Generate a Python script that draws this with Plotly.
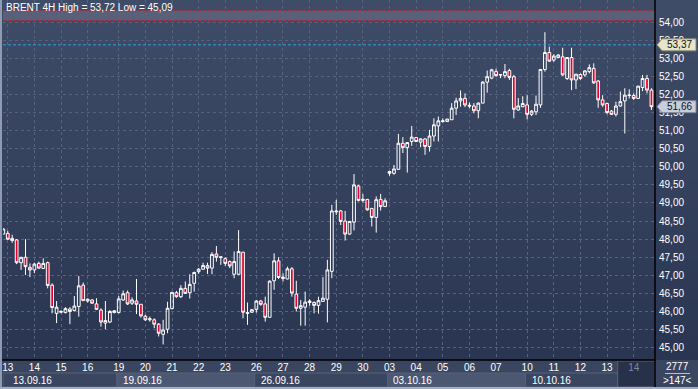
import plotly.graph_objects as go

# ---------------- data (BRENT 4H, 147 bars) ----------------
opens = [48.14,48.16,48.02,47.98,47.35,47.50,47.22,47.15,47.33,47.19,47.35,46.73,45.95,45.98,45.97,46.07,46.03,46.14,46.73,46.29,
         46.32,46.21,46.04,45.68,45.71,45.97,45.97,46.32,46.52,46.23,46.29,46.20,45.87,45.77,45.77,45.65,45.37,45.51,46.08,46.52,
         46.41,46.64,46.52,46.78,47.10,47.17,47.27,47.20,47.59,47.49,47.46,47.38,47.03,47.03,47.64,45.97,45.98,46.06,46.29,46.21,
         45.84,46.85,47.40,46.91,46.90,47.18,46.48,46.09,46.12,46.25,46.25,46.17,46.28,46.34,47.11,48.78,48.78,48.50,48.14,48.47,
         49.47,49.07,49.10,48.85,48.60,49.10,48.90,49.87,49.82,49.93,50.65,50.53,50.70,50.81,50.68,50.77,50.56,50.85,51.13,51.25,
         51.25,51.30,51.62,51.82,51.89,51.70,51.68,51.55,51.76,52.34,52.45,52.63,52.55,52.52,52.66,52.49,51.57,51.66,51.71,51.45,
         51.52,51.71,52.69,53.16,52.95,53.02,53.04,52.44,53.02,52.40,52.55,52.54,52.63,52.72,52.37,51.85,51.75,51.54,51.45,51.68,
         51.82,51.97,51.97,51.89,52.19,52.44,52.12]
highs = [48.30,48.23,48.12,48.00,47.50,48.00,47.33,47.35,47.38,47.47,47.38,46.78,46.29,46.04,46.12,46.12,46.43,46.98,46.80,46.36,
         46.34,46.37,46.09,46.29,46.04,46.04,46.43,46.58,46.58,46.39,46.90,46.20,45.91,45.86,45.81,45.68,45.77,46.27,46.53,46.57,
         46.73,46.83,47.03,47.10,47.20,47.35,47.35,47.64,47.81,47.51,47.50,47.41,47.66,48.25,47.64,46.25,46.07,46.32,46.32,46.41,
         46.86,47.61,47.50,47.06,47.24,47.23,46.85,46.32,46.55,46.34,46.28,46.41,46.95,47.43,48.95,49.09,48.81,48.78,48.49,49.80,
         49.50,49.25,49.10,48.85,49.18,49.25,49.13,49.89,50.05,50.91,50.82,50.67,51.13,50.82,50.79,50.79,51.02,51.34,51.39,51.34,
         51.32,51.76,51.91,52.11,52.03,51.78,51.76,51.78,52.37,52.66,52.71,52.71,52.56,52.84,52.71,52.54,51.90,51.95,51.98,51.57,
         51.97,52.69,53.72,53.32,53.11,53.11,53.29,53.02,53.29,52.56,52.58,52.67,52.83,52.86,52.40,51.98,51.77,51.57,51.80,52.08,
         52.17,52.14,52.03,52.23,52.54,52.54,52.17]
lows = [48.14,47.98,47.90,47.31,47.15,47.01,46.95,47.06,47.18,47.18,46.64,45.95,45.68,45.95,45.95,45.65,46.00,45.86,46.30,46.25,
        46.21,46.04,45.58,45.51,45.68,45.95,45.95,46.29,46.18,46.18,45.93,45.83,45.74,45.72,45.54,45.31,45.09,45.40,46.06,46.38,
        46.37,46.49,46.36,46.55,47.04,47.15,47.04,47.03,47.38,47.29,47.26,47.20,46.92,47.01,45.81,45.63,45.97,45.97,46.16,45.72,
        45.84,46.60,46.90,46.83,46.89,46.41,46.00,45.61,45.61,46.16,45.95,45.94,46.28,45.70,46.92,48.67,48.39,47.96,48.12,48.24,
        49.04,49.01,48.79,48.35,48.18,48.79,48.90,49.75,49.78,49.93,50.38,49.84,50.58,50.70,50.54,50.33,50.42,50.70,50.70,51.22,
        51.25,51.30,51.43,51.66,51.65,51.62,51.48,51.34,51.76,52.05,52.42,52.49,52.45,52.45,52.40,51.34,51.55,51.66,51.31,51.40,
        51.43,51.63,52.63,52.90,52.90,53.00,52.51,52.40,52.12,52.15,52.40,52.49,52.58,52.29,51.63,51.66,51.45,51.43,51.39,51.66,
        50.92,51.89,51.85,51.89,52.09,52.03,51.57]
closes = [48.28,48.00,47.96,47.35,47.50,47.24,47.15,47.31,47.20,47.33,46.72,46.11,46.12,46.00,46.08,46.00,46.15,46.71,46.30,46.34,
          46.23,46.06,45.71,45.75,46.00,46.02,46.35,46.49,46.21,46.32,46.20,45.88,45.77,45.80,45.65,45.40,45.49,46.09,46.53,46.41,
          46.64,46.50,46.75,47.08,47.17,47.27,47.20,47.58,47.50,47.51,47.33,47.26,47.38,47.66,45.98,45.95,46.05,46.29,46.20,45.84,
          46.84,47.40,46.94,46.95,47.18,46.51,46.09,46.16,46.26,46.29,46.17,46.30,46.37,47.15,48.78,48.76,48.49,48.14,48.49,49.50,
          49.07,49.10,48.81,48.60,49.09,48.90,49.06,49.82,49.94,50.65,50.53,50.67,50.82,50.70,50.77,50.56,50.85,51.16,51.27,51.27,
          51.32,51.62,51.82,51.89,51.71,51.68,51.55,51.76,52.34,52.49,52.68,52.52,52.54,52.63,52.47,51.59,51.68,51.75,51.45,51.54,
          51.73,52.69,53.16,52.92,53.06,53.09,52.54,53.02,52.40,52.56,52.44,52.65,52.74,52.32,51.85,51.71,51.50,51.45,51.68,51.80,
          51.98,51.98,51.89,52.23,52.44,52.12,51.66]
bars = list(range(len(opens)))

day_ticks = [1, 7, 13, 19, 26, 32, 38, 44, 50, 57, 63, 69, 75, 81, 87, 93, 99, 105, 111, 118, 124, 130, 136, 142]
day_labels = ["13", "14", "15", "16", "19", "20", "21", "22", "23", "26", "27", "28", "29", "30",
              "03", "04", "05", "06", "07", "10", "11", "12", "13", "14"]
week_labels = ["13.09.16", "19.09.16", "26.09.16", "03.10.16", "10.10.16"]
week_starts = [-0.07, 25.6, 56.6, 86.6, 117.6]
price_ticks = [45 + 0.5 * i for i in range(19)]
zone_low, zone_high = 54.05, 54.31
ask_price = 53.37
last_price = closes[-1]
title_text = "BRENT 4H High = 53,72 Low = 45,09"

# ---------------- geometry helpers ----------------
W, H = 698, 389
L, R, T, B = 3, 43, 0, 29
PW, PH = W - L - R, H - T - B
Y0, Y1 = 44.66, 54.61
XMAX = 146.8


def px(x):
    return (x - L) / PW


def py(y):
    return (H - B - y) / PH


def fmt(v):
    return f"{v:.2f}".replace(".", ",")


FONT = "Liberation Sans, Arial, sans-serif"

fig = go.Figure(go.Candlestick(
    x=bars, open=opens, high=highs, low=lows, close=closes,
    increasing=dict(line=dict(color="#ffffff", width=1), fillcolor="rgba(0,0,0,0)"),
    decreasing=dict(line=dict(color="#ffffff", width=1), fillcolor="#e8002e"),
    whiskerwidth=0, hoverinfo="skip", showlegend=False,
))

shapes = []
# vertical gradient background (plot + right axis)
top, bot = (63, 76, 104), (42, 54, 81)
n = 36
for i in range(n):
    t = i / (n - 1)
    c = tuple(round(top[k] + (bot[k] - top[k]) * t) for k in range(3))
    shapes.append(dict(type="rect", xref="paper", yref="paper", x0=px(0), x1=px(W),
                       y0=1 - (i + 1) / n, y1=1 - i / n, fillcolor="rgb(%d,%d,%d)" % c,
                       line_width=0, layer="below"))
# zone band between red dotted lines
shapes.append(dict(type="rect", xref="paper", yref="y", x0=0, x1=1, y0=zone_low, y1=zone_high,
                   fillcolor="#59607a", line_width=0, layer="below"))
for yv in (zone_low, zone_high):
    shapes.append(dict(type="line", xref="paper", yref="y", x0=0, x1=1, y0=yv, y1=yv,
                       line=dict(color="#d8202e", width=1, dash="3px,2px")))
shapes.append(dict(type="line", xref="paper", yref="y", x0=0, x1=1, y0=ask_price, y1=ask_price,
                   line=dict(color="#1ea6de", width=1, dash="3px,2px")))

# bottom axis strip: week boxes (drawn below the tick labels)
for i, ws in enumerate(week_starts):
    we = week_starts[i + 1] if i + 1 < len(week_starts) else 138.4
    shapes.append(dict(type="rect", xref="x", yref="paper", x0=ws, x1=we,
                       y0=py(387), y1=py(373),
                       fillcolor="#4c5772" if i % 2 == 1 else "#3a4560",
                       line=dict(color="#56627c", width=1), layer="below"))
# dark current-day box
shapes.append(dict(type="rect", xref="x", yref="paper", x0=138.4, x1=XMAX, y0=py(387), y1=py(361),
                   fillcolor="#27314a", line=dict(color="#56627c", width=1), layer="below"))
# frame lines
shapes.append(dict(type="line", xref="paper", yref="paper", x0=px(0), x1=px(655), y0=0, y1=0,
                   line=dict(color="#000000", width=1.5)))
shapes.append(dict(type="line", xref="paper", yref="paper", x0=1, x1=1, y0=py(389), y1=1,
                   line=dict(color="#000000", width=1.5)))
shapes.append(dict(type="line", xref="paper", yref="paper", x0=px(1), x1=px(1), y0=py(389), y1=1,
                   line=dict(color="#8f9bb2", width=2)))
shapes.append(dict(type="line", xref="paper", yref="paper", x0=px(0), x1=px(W), y0=py(388), y1=py(388),
                   line=dict(color="#a3adbf", width=2)))
shapes.append(dict(type="line", xref="paper", yref="paper", x0=px(665), x1=px(690), y0=py(373.5), y1=py(373.5),
                   line=dict(color="#b8c0d0", width=1)))

# price tag boxes on the right axis
tag_h = 6 / (PH / (Y1 - Y0))


def tag_path(yv):
    x0, x1, x2 = px(657), px(662), px(696)
    return (f"M {x0},{yv} L {x1},{yv + tag_h} L {x2},{yv + tag_h} "
            f"L {x2},{yv - tag_h} L {x1},{yv - tag_h} Z")


shapes.append(dict(type="path", xref="paper", yref="y", path=tag_path(ask_price),
                   fillcolor="#e6e4c9", line=dict(color="#8a8870", width=1)))
shapes.append(dict(type="path", xref="paper", yref="y", path=tag_path(last_price),
                   fillcolor="#c8cfda", line=dict(color="#7d8698", width=1)))

annotations = [
    dict(text=title_text, xref="paper", yref="paper", x=px(4), y=py(7.5), xanchor="left",
         yanchor="middle", showarrow=False, font=dict(family=FONT, size=10, color="#ffffff")),
    dict(text=fmt(ask_price), xref="paper", yref="y", x=px(679), y=ask_price, showarrow=False,
         xanchor="center", yanchor="middle", font=dict(family=FONT, size=10, color="#111111")),
    dict(text=fmt(last_price), xref="paper", yref="y", x=px(679), y=last_price, showarrow=False,
         xanchor="center", yanchor="middle", font=dict(family=FONT, size=10, color="#111111")),
    dict(text="2777", xref="paper", yref="paper", x=px(677), y=py(366), showarrow=False,
         xanchor="center", yanchor="middle", font=dict(family=FONT, size=10, color="#ffffff")),
    dict(text="&gt;147&lt;", xref="paper", yref="paper", x=px(677), y=py(380), showarrow=False,
         xanchor="center", yanchor="middle", font=dict(family=FONT, size=10, color="#ffffff")),
]
week_label_x = [1.8, 26.6, 57.5, 87.3, 118.6]
for lab, xv in zip(week_labels, week_label_x):
    annotations.append(dict(text=lab, xref="x", yref="paper", x=xv, y=py(380), showarrow=False,
                            xanchor="left", yanchor="middle",
                            font=dict(family=FONT, size=10, color="#ffffff")))

tick_text = [lab for lab in day_labels]
tick_text[-1] = "<span style='color:#7d889c'>14</span>"

fig.update_layout(
    width=W, height=H, margin=dict(l=L, r=R, t=T, b=B, pad=0),
    paper_bgcolor="#3a4560", plot_bgcolor="rgba(0,0,0,0)",
    shapes=shapes, annotations=annotations, showlegend=False,
    font=dict(family=FONT, size=10, color="#ffffff"),
    xaxis=dict(range=[-0.07, XMAX], tickvals=day_ticks, ticktext=tick_text, showgrid=True,
               gridcolor="#56637e", griddash="3px,3px", gridwidth=1, zeroline=False,
               rangeslider=dict(visible=False), ticks="", showline=False,
               tickfont=dict(family=FONT, size=10, color="#ffffff")),
    yaxis=dict(range=[Y0, Y1], side="right", tickvals=price_ticks,
               ticktext=[fmt(v) for v in price_ticks], showgrid=True, gridcolor="#56637e",
               griddash="3px,3px", gridwidth=1, zeroline=False, ticks="", showline=False,
               ticklabelstandoff=3,
               tickfont=dict(family=FONT, size=10, color="#ffffff")),
    boxgap=0.12,
)

fig.write_html("out.html", config={"displayModeBar": False},
               post_script="document.body.style.margin='0';document.body.style.overflow='hidden';")
